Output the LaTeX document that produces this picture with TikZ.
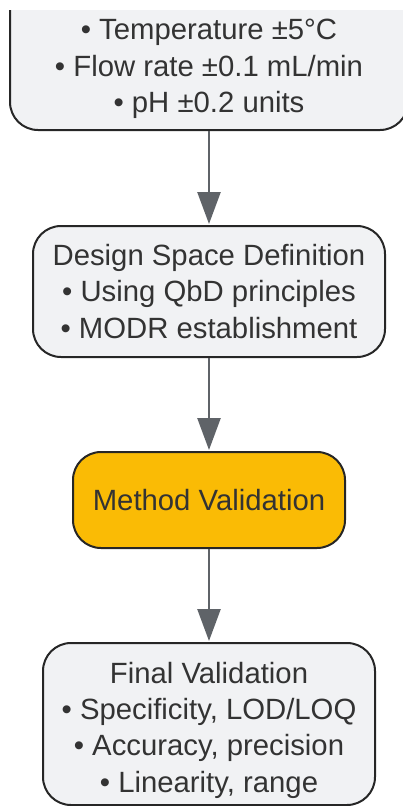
\documentclass[tikz,border=0pt]{standalone}
\usepackage{fontspec}
\setmainfont{Liberation Sans}
\usetikzlibrary{arrows.meta}
\definecolor{boxfill}{HTML}{F1F2F4}
\definecolor{boxline}{HTML}{262626}
\definecolor{txt}{HTML}{333333}
\definecolor{arr}{HTML}{5F6368}
\definecolor{gold}{HTML}{FABB05}
\tikzset{
  box/.style={draw=boxline, line width=2pt, fill=boxfill, rounded corners=28pt, inner sep=0pt},
  goldbox/.style={box, fill=gold},
  label/.style={text=txt, font=\fontsize{29.3}{36.3}\selectfont, align=center, inner sep=0pt},
  flow/.style={draw=arr, line width=2.6pt, -{Triangle[length=32pt, width=23pt]}, shorten >=1pt},
}
\begin{document}
\begin{tikzpicture}[x=1pt, y=-1pt]
\useasboundingbox (0,0) rectangle (403,806);
% top box, clipped at page edges
\begin{scope}
  \clip (0,10) rectangle (403,806);
  \node[box, minimum width=398pt, minimum height=200pt] (n1) at (209,30) {};
\end{scope}
\node[label] (t1) at (209,69) {• Temperature ±5°C\\• Flow rate ±0.1 mL/min\\• pH ±0.2 units};
% design space
\node[box, label, draw=boxline, fill=boxfill, minimum width=352pt, minimum height=131pt] (n2) at (209,291.5)
  {Design Space Definition\\• Using QbD principles\\• MODR establishment};
% method validation
\node[goldbox, label, draw=boxline, minimum width=272pt, minimum height=96pt] (n3) at (209,500) {Method Validation};
% final validation
\node[box, minimum width=332pt, minimum height=162pt] (n4) at (209,724) {};
\node[label] (t4) at (209,730) {Final Validation\\• Specificity, LOD/LOQ\\• Accuracy, precision\\• Linearity, range};
% connectors
\draw[flow] (209,131) -- (n2.north);
\draw[flow] (n2.south) -- (n3.north);
\draw[flow] (n3.south) -- (n4.north);
\end{tikzpicture}
\end{document}
